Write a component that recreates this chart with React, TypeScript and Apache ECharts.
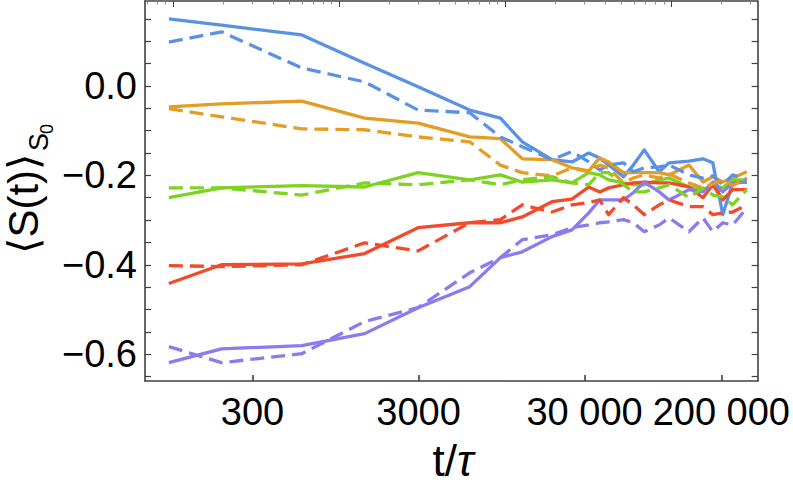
import React, { useEffect, useRef } from 'react';
import * as echarts from 'echarts';

// time values t/τ shared by all curves
const tValues = [94, 195, 594, 1420, 2980, 6100, 9340, 12650, 19100, 25200, 31800, 37000, 41900, 51500, 59000, 68700, 84500, 97000, 127700, 155000, 177800, 204000, 234000, 285000];

const blueSolid = [0.150, 0.136, 0.114, 0.051, -0.002, -0.054, -0.072, -0.125, -0.165, -0.170, -0.150, -0.161, -0.177, -0.203, -0.177, -0.143, -0.192, -0.172, -0.168, -0.163, -0.172, -0.288, -0.217, -0.215];
const blueDashed = [0.098, 0.121, 0.040, 0.009, -0.054, -0.060, -0.114, -0.136, -0.165, -0.147, -0.170, -0.188, -0.177, -0.172, -0.192, -0.183, -0.181, -0.177, -0.199, -0.206, -0.201, -0.221, -0.199, -0.210];
const orangeSolid = [-0.047, -0.040, -0.034, -0.072, -0.083, -0.114, -0.118, -0.163, -0.165, -0.183, -0.190, -0.161, -0.170, -0.194, -0.194, -0.194, -0.194, -0.199, -0.177, -0.215, -0.203, -0.215, -0.206, -0.192];
const orangeDashed = [-0.051, -0.069, -0.096, -0.098, -0.114, -0.125, -0.177, -0.194, -0.201, -0.183, -0.192, -0.177, -0.183, -0.217, -0.206, -0.199, -0.206, -0.197, -0.217, -0.228, -0.219, -0.210, -0.223, -0.206];
const greenSolid = [-0.250, -0.228, -0.223, -0.226, -0.194, -0.210, -0.199, -0.215, -0.210, -0.217, -0.194, -0.199, -0.210, -0.217, -0.221, -0.221, -0.210, -0.206, -0.226, -0.232, -0.221, -0.228, -0.210, -0.210];
const greenDashed = [-0.228, -0.228, -0.244, -0.217, -0.221, -0.210, -0.221, -0.210, -0.203, -0.217, -0.221, -0.194, -0.194, -0.221, -0.237, -0.237, -0.228, -0.221, -0.250, -0.228, -0.244, -0.248, -0.266, -0.232];
const redSolid = [-0.442, -0.400, -0.398, -0.375, -0.317, -0.306, -0.306, -0.293, -0.259, -0.253, -0.226, -0.237, -0.228, -0.221, -0.217, -0.215, -0.217, -0.217, -0.226, -0.250, -0.221, -0.255, -0.232, -0.232];
const redDashed = [-0.402, -0.404, -0.400, -0.351, -0.369, -0.306, -0.299, -0.266, -0.282, -0.266, -0.261, -0.255, -0.288, -0.250, -0.266, -0.288, -0.266, -0.255, -0.270, -0.270, -0.288, -0.284, -0.282, -0.266];
const purpleSolid = [-0.619, -0.588, -0.581, -0.554, -0.496, -0.449, -0.384, -0.371, -0.337, -0.322, -0.284, -0.255, -0.255, -0.255, -0.239, -0.215, -0.237, -0.255, -0.232, -0.237, -0.215, -0.237, -0.217, -0.215];
const purpleDashed = [-0.583, -0.619, -0.599, -0.527, -0.496, -0.418, -0.384, -0.344, -0.333, -0.317, -0.311, -0.306, -0.304, -0.299, -0.306, -0.326, -0.311, -0.295, -0.326, -0.295, -0.326, -0.306, -0.311, -0.273];

const xTickLabels = [300, 3000, 30000, 200000];
const xTopMajor = [100, 1000, 10000, 100000];
const xTopMinor = [70, 80, 90, 200, 300, 400, 500, 600, 700, 800, 900, 2000, 3000, 4000, 5000, 6000, 7000, 8000, 9000, 20000, 30000, 40000, 50000, 60000, 70000, 80000, 90000, 200000, 300000];
const yTickLabels = [-0.6, -0.4, -0.2, 0.0];
const yTicks = [-0.65, -0.6, -0.55, -0.5, -0.45, -0.4, -0.35, -0.3, -0.25, -0.2, -0.15, -0.1, -0.05, 0, 0.05, 0.1, 0.15];

const X_MIN_T = 67.5;
const X_MAX_T = 331000;
const Y_MIN = -0.66;
const Y_MAX = 0.19;

const FONT = "'Liberation Sans', Arial, 'DejaVu Sans', sans-serif";
const FRAME = '#404040';

const curves = [
  { name: 'blue solid', data: blueSolid, color: '#5B91E5', dashed: false },
  { name: 'orange solid', data: orangeSolid, color: '#E59C22', dashed: false },
  { name: 'green solid', data: greenSolid, color: '#7ED320', dashed: false },
  { name: 'red solid', data: redSolid, color: '#F24A2A', dashed: false },
  { name: 'purple solid', data: purpleSolid, color: '#8A7CF0', dashed: false },
  { name: 'blue dashed', data: blueDashed, color: '#5B91E5', dashed: true },
  { name: 'orange dashed', data: orangeDashed, color: '#E59C22', dashed: true },
  { name: 'green dashed', data: greenDashed, color: '#7ED320', dashed: true },
  { name: 'red dashed', data: redDashed, color: '#F24A2A', dashed: true },
  { name: 'purple dashed', data: purpleDashed, color: '#8A7CF0', dashed: true },
];

const lg = (v: number) => Math.log10(v);

function fmtX(v: number) {
  const n = Math.round(Math.pow(10, v));
  if (n >= 10000) return String(n).replace(/\B(?=(\d{3})+(?!\d))/g, ' ');
  return String(n);
}
function fmtY(v: number) {
  if (Math.abs(v) < 1e-9) return '0.0';
  return (v < 0 ? '\u2212' : '') + Math.abs(v).toFixed(1);
}

export default function App() {
  const ref = useRef<HTMLDivElement>(null);
  useEffect(() => {
    if (!ref.current) return;
    const chart = echarts.init(ref.current, undefined, { renderer: 'svg' });
    const xmin = lg(X_MIN_T);
    const xmax = lg(X_MAX_T);
    const lineStyle = { color: FRAME, width: 1.6 };
    chart.setOption({
      animation: false,
      backgroundColor: '#fff',
      grid: { left: 145, right: 31, top: 1, bottom: 103, containLabel: false },
      xAxis: [
        {
          type: 'value', min: xmin, max: xmax, position: 'bottom',
          axisLine: { show: true, onZero: false, lineStyle },
          axisTick: { show: true, inside: true, length: 6, customValues: xTickLabels.map(lg), lineStyle },
          axisLabel: { customValues: xTickLabels.map(lg), formatter: fmtX, fontSize: 38, color: '#000', fontFamily: FONT, margin: 12 },
          splitLine: { show: false },
        },
        {
          type: 'value', min: xmin, max: xmax, position: 'top',
          axisLine: { show: true, onZero: false, lineStyle },
          axisTick: { show: true, inside: true, length: 6, customValues: xTopMajor.map(lg), lineStyle: { color: FRAME, width: 1 } },
          axisLabel: { show: false },
          splitLine: { show: false },
        },
        {
          type: 'value', min: xmin, max: xmax, position: 'top',
          axisLine: { show: false, onZero: false },
          axisTick: { show: true, inside: true, length: 3.5, customValues: xTopMinor.map(lg), lineStyle: { color: '#888', width: 1 } },
          axisLabel: { show: false },
          splitLine: { show: false },
        },
      ],
      yAxis: [
        {
          type: 'value', min: Y_MIN, max: Y_MAX, position: 'left',
          axisLine: { show: true, onZero: false, lineStyle },
          axisTick: { show: true, inside: true, length: 6, customValues: yTicks, lineStyle: { color: FRAME, width: 1.2 } },
          axisLabel: { customValues: yTickLabels, formatter: fmtY, fontSize: 38, color: '#000', fontFamily: FONT, margin: 8 },
          splitLine: { show: false },
        },
        {
          type: 'value', min: Y_MIN, max: Y_MAX, position: 'right',
          axisLine: { show: true, onZero: false, lineStyle },
          axisTick: { show: true, inside: true, length: 6, customValues: yTicks, lineStyle: { color: FRAME, width: 1.2 } },
          axisLabel: { show: false },
          splitLine: { show: false },
        },
      ],
      series: curves.map((c) => ({
        name: c.name,
        type: 'line',
        xAxisIndex: 0,
        yAxisIndex: 0,
        symbol: 'none',
        showSymbol: false,
        data: tValues.map((t, i) => [lg(t), c.data[i]]),
        lineStyle: { color: c.color, width: 3.3, type: c.dashed ? [14, 7] : 'solid', cap: 'butt', join: 'round' },
        emphasis: { disabled: true },
      })),
      graphic: [
        {
          type: 'text', x: 453, y: 460,
          style: {
            text: 't/{i|τ}', fontSize: 44, fontFamily: FONT, fill: '#000', align: 'center', verticalAlign: 'middle',
            rich: { i: { fontStyle: 'italic', fontSize: 44, fontFamily: FONT, fill: '#000' } },
          },
        },
        {
          type: 'group', x: 23, y: 254, rotation: Math.PI / 2,
          children: [
            { type: 'text', x: 0, y: 0, style: { text: '⟨S(t)⟩', fontSize: 42, fontFamily: FONT, fill: '#000', align: 'left', verticalAlign: 'middle' } },
            { type: 'text', x: 103, y: 16, style: { text: 'S', fontSize: 27, fontFamily: FONT, fill: '#000', align: 'left', verticalAlign: 'middle' } },
            { type: 'text', x: 120, y: 24, style: { text: '0', fontSize: 18, fontFamily: FONT, fill: '#000', align: 'left', verticalAlign: 'middle' } },
          ],
        },
      ],
    });
    return () => chart.dispose();
  }, []);
  return <div ref={ref} style={{ position: 'fixed', left: 0, top: 0, width: 793, height: 484 }} />;
}
